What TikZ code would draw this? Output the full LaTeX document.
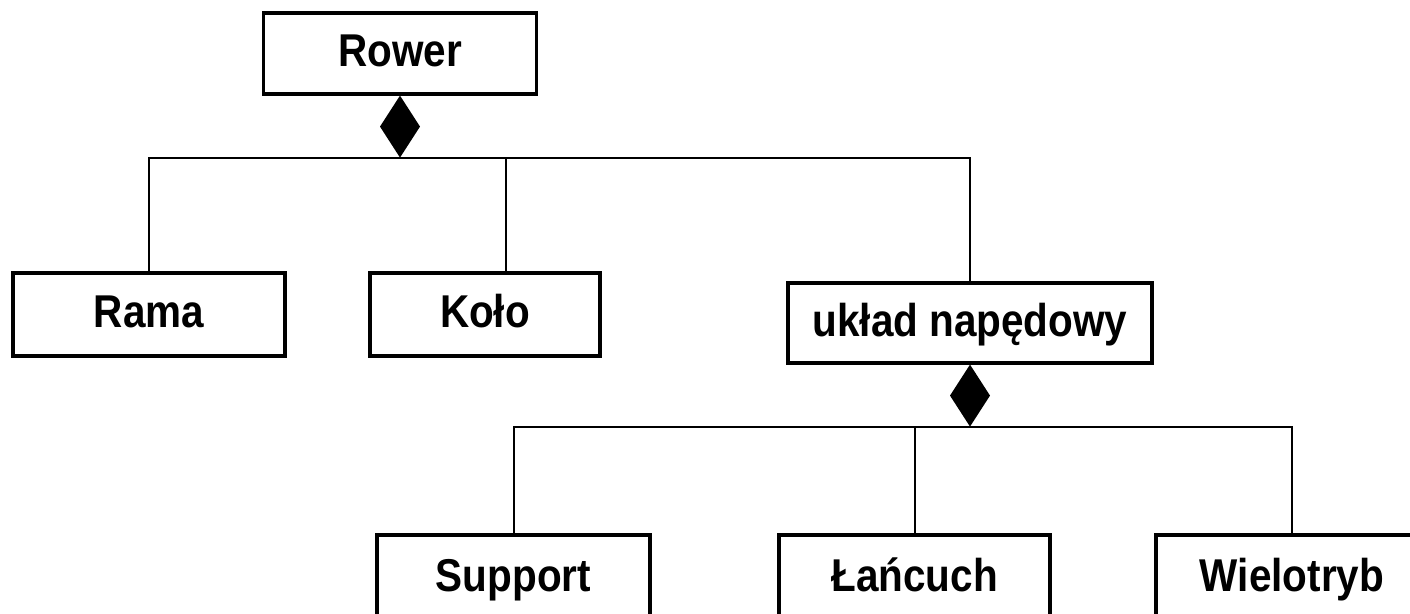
\documentclass[tikz,border=0pt]{standalone}
\usepackage{fontspec}
\setmainfont{Liberation Sans}[FakeStretch=0.88]
\usetikzlibrary{shapes.geometric}

\begin{document}
\begin{tikzpicture}[x=0.5pt, y=-0.5pt, line width=1pt,
  klasa/.style={draw, rectangle, line width=1.6pt, inner sep=0pt, text height=16.5pt, text depth=3.2pt,
    font=\fontsize{23}{27}\selectfont\bfseries},
  romb/.style={diamond, fill=black, draw=none, inner sep=0pt, outer sep=0pt, minimum width=20pt, minimum height=31pt}]
\clip (0,0) rectangle (1410,614);
% Klasy
\node [klasa, minimum width=136.5pt, minimum height=40.5pt] (Rower) at (400,53.5) {Rower};
\node [klasa, minimum width=136pt, minimum height=41.5pt] (Rama) at (149,314.5) {Rama};
\node [klasa, minimum width=115pt, minimum height=41.5pt] (Kolo) at (485,314.5) {Koło};
\node [klasa, minimum width=182pt, minimum height=40pt] (uklad) at (970,323) {układ napędowy};
\node [klasa, minimum width=136.5pt, minimum height=43pt] (Support) at (513.5,578) {Support};
\node [klasa, minimum width=135.5pt, minimum height=43pt] (Lancuch) at (914.5,578) {Łańcuch};
\node [klasa, minimum width=136pt, minimum height=43pt] (Wielotryb) at (1292,578) {Wielotryb};
% Kompozycja
\node [romb, anchor=north] (d1) at (Rower.south) {};
\node [romb, anchor=north] (d2) at (uklad.south) {};
% Polaczenia
\draw (Rama.north) |- (d1.south) -| (uklad.north);
\draw (d1.south) -| ([xshift=10.5pt]Kolo.north);
\draw (Support.north) |- (d2.south) -| (Wielotryb.north);
\draw (d2.south) -| (Lancuch.north);
\end{tikzpicture}
\end{document}
